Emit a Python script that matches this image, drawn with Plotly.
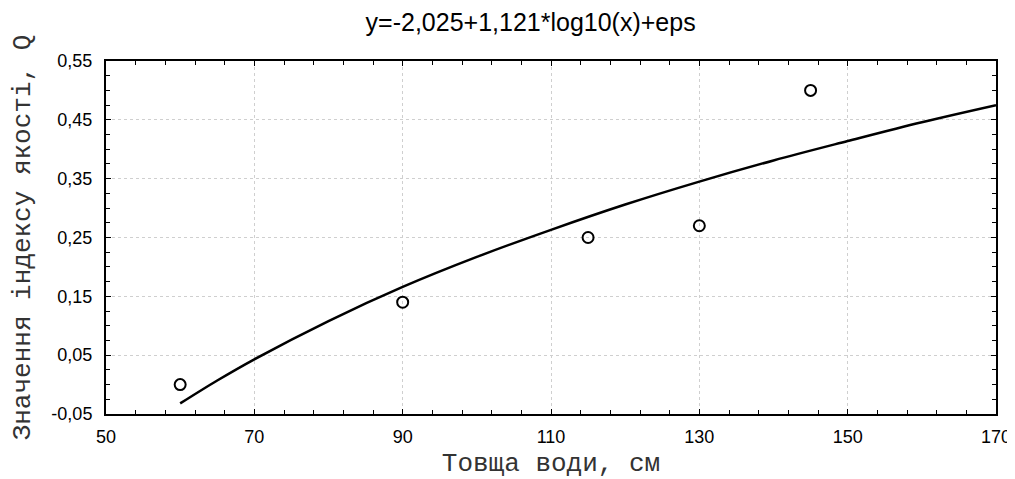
import plotly.graph_objects as go

# Observed points
obs_x = [60, 90, 115, 130, 145]
obs_y = [0.00, 0.14, 0.25, 0.27, 0.50]

# Fitted curve
fit_x = [60, 65, 70, 80, 90, 100, 110, 120, 130, 140, 150, 160, 170]
fit_y = [-0.032, 0.007, 0.043, 0.108, 0.166, 0.217, 0.263, 0.306, 0.345, 0.381, 0.414, 0.446, 0.475]

title_text = "y=-2,025+1,121*log10(x)+eps"
x_title = "Товща води, см"
y_title = "Значення індексу якості, Q"

x_ticks = [50, 70, 90, 110, 130, 150, 170]
y_ticks = [-0.05, 0.05, 0.15, 0.25, 0.35, 0.45, 0.55]
y_tick_text = ["-0,05", "0,05", "0,15", "0,25", "0,35", "0,45", "0,55"]

fig = go.Figure()
fig.add_trace(go.Scatter(x=fit_x, y=fit_y, mode="lines",
                         line=dict(color="black", width=2.5, shape="spline"),
                         hoverinfo="skip", showlegend=False))
fig.add_trace(go.Scatter(x=obs_x, y=obs_y, mode="markers",
                         marker=dict(symbol="circle-open", size=11, color="black",
                                     line=dict(width=2, color="black")),
                         showlegend=False))

axis_common = dict(
    showline=True, linecolor="black", linewidth=2, mirror="allticks",
    ticks="inside", ticklen=5, tickcolor="black", tickwidth=1,
    showgrid=True, gridcolor="#cfcfcf", griddash="dot", gridwidth=1,
    zeroline=False, automargin=False,
    tickfont=dict(family="Liberation Sans, Arial", size=18, color="black"),
)

title_font = dict(family="Liberation Mono, Courier New", size=26, color="#333")

fig.update_xaxes(
    range=[50, 170], tickvals=x_ticks, ticktext=[str(v) for v in x_ticks],
    minor=dict(dtick=4, tick0=50, ticks="inside", ticklen=4, tickcolor="black", showgrid=False),
    title=dict(text=x_title, font=title_font, standoff=15),
    ticklabelstandoff=5,
    **axis_common,
)
fig.update_yaxes(
    range=[-0.05, 0.55], tickvals=y_ticks, ticktext=y_tick_text,
    minor=dict(dtick=0.025, tick0=-0.05, ticks="inside", ticklen=4, tickcolor="black", showgrid=False),
    title=dict(text=y_title, font=title_font, standoff=20),
    ticklabelstandoff=8,
    **axis_common,
)

# the page has an 8px body margin, so the figure sits 8px in from the top-left corner
fig.update_layout(
    width=1007, height=471,
    margin=dict(l=98, r=19, t=53, b=65, autoexpand=False),
    paper_bgcolor="white", plot_bgcolor="white",
    title=dict(text=title_text, x=0.519, xref="container", xanchor="center",
               y=0.969, yref="container", yanchor="middle", automargin=False,
               font=dict(family="Liberation Sans, Arial", size=25, color="black")),
)

fig.write_html("out.html")
